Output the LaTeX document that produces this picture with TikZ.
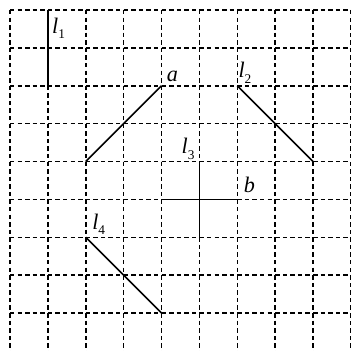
\documentclass[tikz,border=0pt]{standalone}
\usepackage{fontspec}
\setmainfont{Liberation Serif}
\usepackage{tikz}
\usetikzlibrary{positioning}

\newcommand{\seglab}[2]{\textit{#1}\raisebox{-0.55ex}{\fontsize{6}{7}\selectfont #2}}

\tikzset{
  gridline/.style={line width=0.7pt, dash pattern=on 2pt off 1.414pt},
  segline/.style={line width=0.75pt},
  lab/.style={anchor=base west, inner sep=0pt, font=\fontsize{10}{12}\selectfont}
}

\begin{document}
\begin{tikzpicture}[x=0.6cm, y=0.6cm]
        \useasboundingbox (-0.263, 0.263) rectangle (9.0, -8.975);
        % grid
        \foreach \j in {0,...,8}
          \draw[gridline] (0, -\j) -- (9, -\j);
        \foreach \i in {0,...,9}
          \draw[gridline] (\i, 0) -- (\i, -9);
        % segments
        \coordinate (l1top) at (1, 0);
        \coordinate (l1bot) at (1, -2);
        \coordinate (aend) at (4, -2);
        \coordinate (astart) at (2, -4);
        \coordinate (l2top) at (6, -2);
        \coordinate (l2bot) at (8, -4);
        \coordinate (l3left) at (4, -5);
        \coordinate (l3right) at (6, -5);
        \coordinate (l3top) at (5, -4);
        \coordinate (l3bot) at (5, -6);
        \coordinate (l4top) at (2, -6);
        \coordinate (l4bot) at (4, -8);
        \draw[segline] (l1top) -- (l1bot);
        \draw[segline] (astart) -- (aend);
        \draw[segline] (l2top) -- (l2bot);
        \draw[segline] (l3left) -- (l3right);
        \draw[segline] (l3top) -- (l3bot);
        \draw[segline] (l4top) -- (l4bot);
        % labels
        \node[lab] (labl1) at (1.1, -0.61) {\seglab{l}{1}};
        \node[lab] (laba) at (4.13, -1.89) {\textit{a}};
        \node[lab] (labl2) at (6.02, -1.79) {\seglab{l}{2}};
        \node[lab] (labl3) at (4.52, -3.79) {\seglab{l}{3}};
        \node[lab] (labb) at (6.16, -4.82) {\textit{b}};
        \node[lab] (labl4) at (2.16, -5.79) {\seglab{l}{4}};
      \end{tikzpicture}
\end{document}
